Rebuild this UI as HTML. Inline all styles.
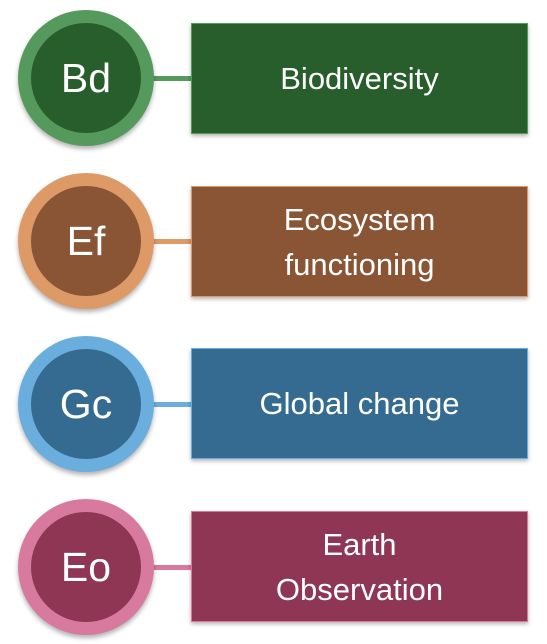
<!DOCTYPE html>
<html><head><meta charset="utf-8"><style>
body{margin:0;width:547px;height:644px;background:#fff;position:relative;overflow:hidden;font-family:"Liberation Sans",sans-serif}
.ring{position:absolute;width:136px;height:136px;border-radius:50%;box-shadow:0 3px 5px rgba(0,0,0,.3)}
.core{position:absolute;left:13px;top:13px;width:110px;height:110px;border-radius:50%;color:#fff;font-size:41px;display:flex;align-items:center;justify-content:center}
.line{position:absolute;left:150px;width:44px;height:5px}
.box{position:absolute;left:191px;width:337px;height:111px;color:#fff;font-size:31px;display:flex;align-items:center;justify-content:center;text-align:center;line-height:45px;box-sizing:border-box;border:1.5px solid;box-shadow:0 2px 4px rgba(0,0,0,.3)}
</style></head><body>
<div class="line" style="top:76px;background:#559a5c"></div>
<div class="ring" style="left:18px;top:10px;background:#559a5c"><div class="core" style="background:#285e2b">Bd</div></div>
<div class="box" style="top:23px;background:#285e2b;border-color:#559a5c">Biodiversity</div>

<div class="line" style="top:239px;background:#dd9966"></div>
<div class="ring" style="left:18px;top:173px;background:#dd9966"><div class="core" style="background:#8a5535">Ef</div></div>
<div class="box" style="top:186px;background:#8a5535;border-color:#dd9966">Ecosystem<br>functioning</div>

<div class="line" style="top:402px;background:#6aaedd"></div>
<div class="ring" style="left:18px;top:336px;background:#6aaedd"><div class="core" style="background:#366b91">Gc</div></div>
<div class="box" style="top:348px;background:#366b91;border-color:#6aaedd">Global change</div>

<div class="line" style="top:565px;background:#d87a9e"></div>
<div class="ring" style="left:18px;top:499px;background:#d87a9e"><div class="core" style="background:#8f3654">Eo</div></div>
<div class="box" style="top:511px;background:#8f3654;border-color:#d87a9e">Earth<br>Observation</div>
</body></html>
